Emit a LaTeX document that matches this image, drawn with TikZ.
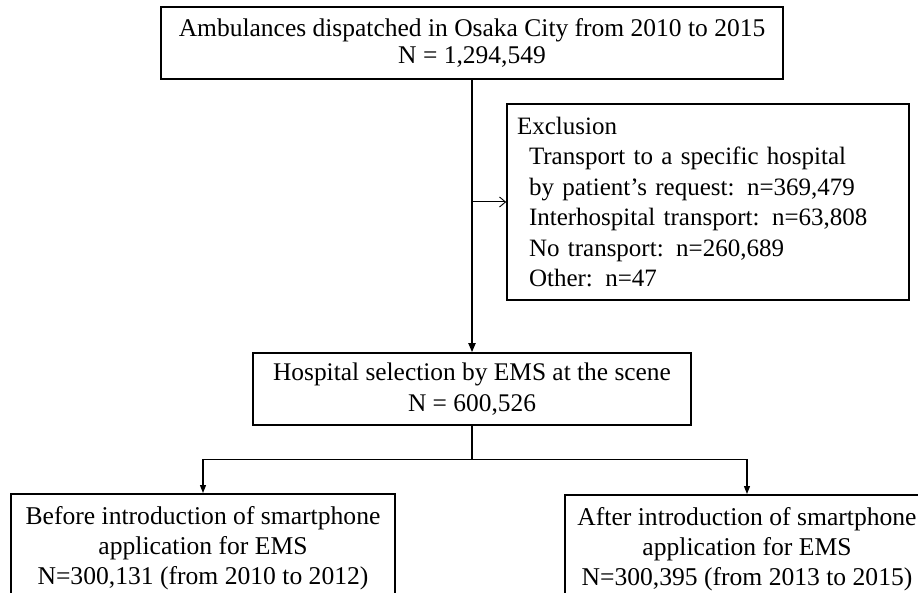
\documentclass[tikz,border=0pt]{standalone}
\usepackage{fontspec}
\setmainfont{Liberation Serif}
\usetikzlibrary{arrows.meta,calc}
\begin{document}
\begin{tikzpicture}[x=1pt,y=-1pt,
  box/.style={draw, line width=1.6pt, align=center, inner sep=0pt},
  thick link/.style={line width=1.8pt, -{Triangle[length=9pt,width=7pt]}},
  side link/.style={line width=1pt, -{Straight Barb[length=6pt,width=10pt,line width=0.9pt]}},
  split link/.style={line width=1.2pt, -{Triangle[length=8pt,width=6pt]}}]
\useasboundingbox (0,0) rectangle (918,593);
\clip (0,0) rectangle (918,593);

% stage 1: all dispatches
\node[box, font=\fontsize{25.5}{27.5}\selectfont, minimum width=622pt, minimum height=72pt] (top) at (472,43)
  {Ambulances dispatched in Osaka City from 2010 to 2015\\N = 1,294,549};

% excluded cases
\node[box, font=\fontsize{25}{30.5}\selectfont, align=left, text width=382pt,
      inner xsep=10pt, minimum width=402pt, minimum height=196pt] (excl) at (708,202)
  {Exclusion\\
   \hspace*{12pt}Transport to a specific hospital\\
   \hspace*{12pt}by patient’s request: n=369,479\\
   \hspace*{12pt}Interhospital transport: n=63,808\\
   \hspace*{12pt}No transport: n=260,689\\
   \hspace*{12pt}Other: n=47};

% stage 2: study population
\node[box, font=\fontsize{25.4}{31}\selectfont, minimum width=438pt, minimum height=72pt] (mid) at (472,389)
  {Hospital selection by EMS at the scene\\N = 600,526};

% stage 3: the two periods
\node[box, font=\fontsize{25.6}{30}\selectfont, anchor=north, minimum width=384pt,
      inner ysep=13pt, text depth=40pt] (lb) at (203,493)
  {Before introduction of smartphone\\application for EMS\\N=300,131 (from 2010 to 2012)};
\node[box, font=\fontsize{25.6}{30}\selectfont, anchor=north, minimum width=364pt,
      inner ysep=13pt, text depth=40pt] (rb) at (747,494)
  {After introduction of smartphone\\application for EMS\\N=300,395 (from 2013 to 2015)};

% connectors
\draw[thick link] (top) -- (mid);
\draw[side link] (top.south |- excl.west) -- (excl.west);
\coordinate (fork) at ($(mid.south)+(0,34)$);
\draw[line width=1.2pt] (mid.south) -- (fork);
\draw[split link] (fork) -| (lb.north);
\draw[split link] (fork) -| (rb.north);
\end{tikzpicture}
\end{document}
